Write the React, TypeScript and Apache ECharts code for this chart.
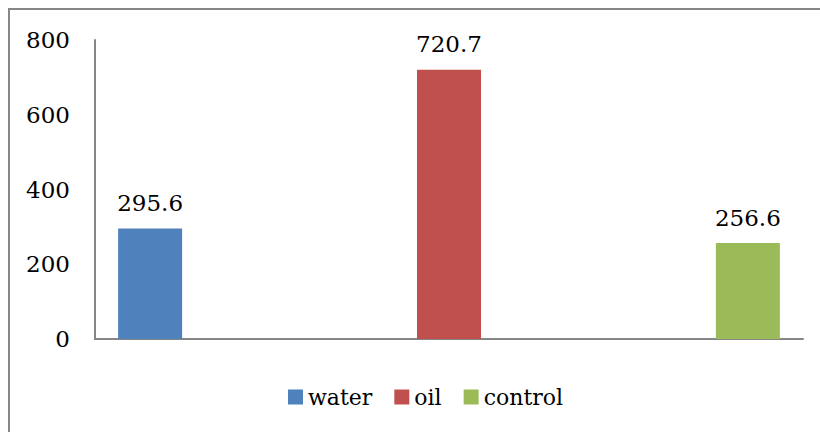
import React, { useEffect, useRef } from "react";
import * as echarts from "echarts";

const categories = ["group"];
const seriesNames = ["water", "oil", "control"];
const waterValues = [295.6];
const oilValues = [720.7];
const controlValues = [256.6];
const colors = ["#4F81BD", "#C0504D", "#9BBB59"];

const FONT = "DejaVu Serif";

export default function App() {
  const ref = useRef<HTMLDivElement>(null);
  useEffect(() => {
    if (!ref.current) return;
    const chart = echarts.init(ref.current, undefined, { renderer: "svg" });
    const values = [waterValues, oilValues, controlValues];
    chart.setOption({
      animation: false,
      backgroundColor: "#ffffff",
      textStyle: { fontFamily: FONT },
      graphic: [
        {
          type: "rect",
          shape: { x: 9, y: 9, width: 830, height: 440 },
          style: { fill: "none", stroke: "#878787", lineWidth: 2 },
          silent: true,
        },
      ],
      legend: {
        left: 283,
        top: 381,
        itemWidth: 15,
        itemHeight: 15,
        itemGap: 22,
        icon: "rect",
        textStyle: { fontFamily: FONT, fontSize: 22, color: "#000" },
        data: seriesNames,
      },
      grid: { left: 95, top: 40, width: 708, height: 299, containLabel: false },
      xAxis: {
        type: "category",
        data: categories,
        axisLine: { show: true, lineStyle: { color: "#868686", width: 2 } },
        axisTick: { show: false },
        axisLabel: { show: false },
        splitLine: { show: false },
      },
      yAxis: {
        type: "value",
        min: 0,
        max: 800,
        interval: 200,
        axisLine: { show: true, lineStyle: { color: "#868686", width: 2 } },
        axisTick: { show: false },
        splitLine: { show: false },
        axisLabel: { fontFamily: FONT, fontSize: 23, color: "#000", margin: 25 },
      },
      series: seriesNames.map((name, i) => ({
        name,
        type: "bar",
        data: values[i],
        barWidth: 64,
        barGap: "367%",
        itemStyle: { color: colors[i] },
        label: {
          show: true,
          position: "top",
          distance: 14,
          fontFamily: FONT,
          fontSize: 23,
          color: "#000",
          formatter: (p: any) => p.value.toFixed(1),
        },
      })),
    });
    return () => chart.dispose();
  }, []);
  return (
    <div
      ref={ref}
      style={{ position: "fixed", left: 0, top: 0, width: 820, height: 432 }}
    />
  );
}
